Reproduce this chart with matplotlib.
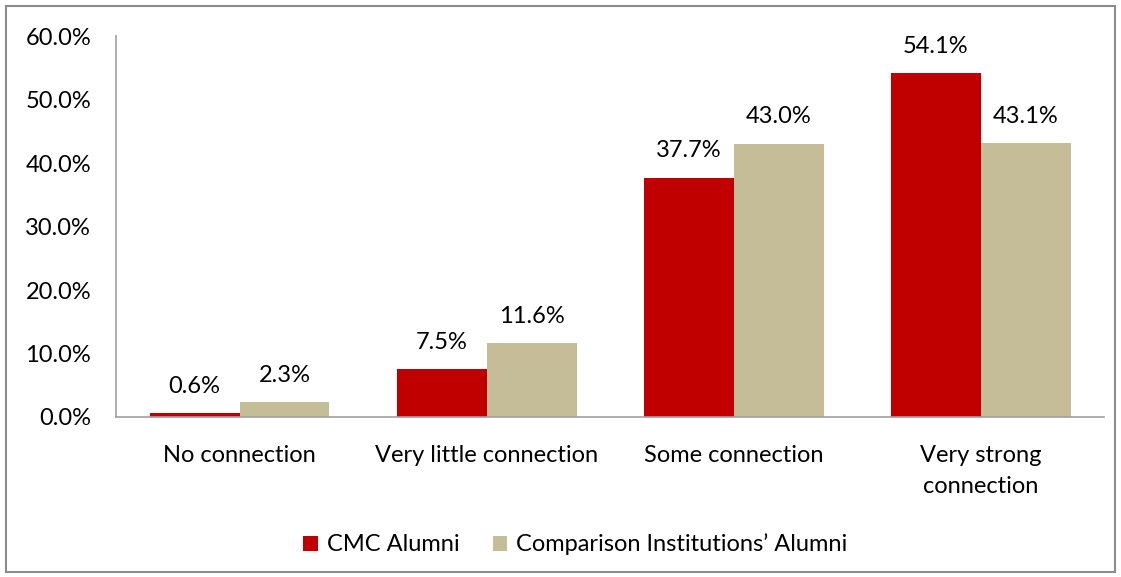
import numpy as np
import matplotlib.pyplot as plt
from matplotlib.patches import Rectangle

categories = ["No connection", "Very little connection", "Some connection", "Very strong\nconnection"]
cmc = [0.6, 7.5, 37.7, 54.1]
comparison = [2.3, 11.6, 43.0, 43.1]
series_names = ["CMC Alumni", "Comparison Institutions\u2019 Alumni"]

plt.rcParams['font.family'] = ['Lato', 'DejaVu Sans']

fig = plt.figure(figsize=(11.21, 5.77), dpi=100)
ax = fig.add_axes([0.1035, 0.2773, 0.8815, 0.6603])

x = np.arange(len(categories))
w = 0.364
b1 = ax.bar(x - w / 2, cmc, w, color='#C00000', label=series_names[0])
b2 = ax.bar(x + w / 2, comparison, w, color='#C4BD97', label=series_names[1])

for bars, vals in ((b1, cmc), (b2, comparison)):
    for r, v in zip(bars, vals):
        ax.text(r.get_x() + r.get_width() / 2, v + 2.6, f"{v:.1f}%",
                ha='center', va='bottom', fontsize=17)

ax.set_xlim(-0.5, 3.5)
ax.set_ylim(0, 60)
ax.set_yticks(np.arange(0, 61, 10))
ax.set_yticklabels([f"{t:.1f}%" for t in np.arange(0, 61, 10)])
ax.set_xticks(x)
ax.set_xticklabels(categories, linespacing=1.6)
ax.tick_params(length=0, labelsize=17)
ax.tick_params(axis='y', pad=18)
ax.tick_params(axis='x', pad=20)
for s in ('top', 'right'):
    ax.spines[s].set_visible(False)
for s in ('left', 'bottom'):
    ax.spines[s].set_color('#A0A0A0')
    ax.spines[s].set_linewidth(1.2)

ax.legend(loc='upper center', bbox_to_anchor=(0.465, -0.25), ncol=2, frameon=False,
          fontsize=17, handlelength=0.6, handleheight=0.6, columnspacing=1.4, handletextpad=0.4)

fig.patches.append(Rectangle((0.0054, 0.009), 0.989, 0.981, transform=fig.transFigure,
                             fill=False, edgecolor='#8C8C8C', linewidth=1.5))

fig.savefig("out.png", dpi=100)
